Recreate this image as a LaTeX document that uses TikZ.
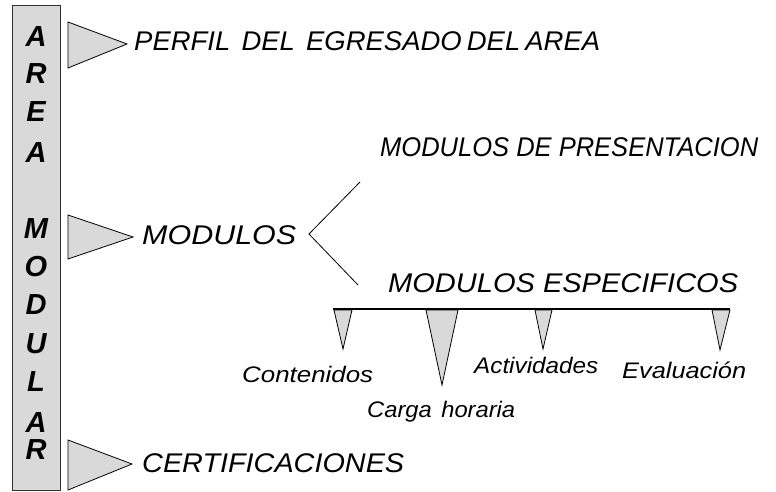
\documentclass[tikz,border=0pt]{standalone}
\usepackage{fontspec}
\usepackage{graphicx}
\setmainfont{Liberation Sans}
\definecolor{boxgray}{HTML}{D9D9D9}
\newcommand\fitw[2]{\sbox0{#2}\pgfmathsetmacro\fsx{#1/\the\wd0}\scalebox{\fsx}[1]{\usebox0}}
\tikzset{
  bar/.style={fill=boxgray, draw=black!80, line width=0.8pt},
  tri/.style={fill=boxgray, draw=black, line width=0.8pt},
  bigtxt/.style={anchor=base west, inner sep=0pt, font=\fontsize{27}{27}\selectfont\itshape},
  smalltxt/.style={anchor=base west, inner sep=0pt, font=\fontsize{22.5}{22.5}\selectfont\itshape},
  barltr/.style={anchor=base, inner sep=0pt, font=\fontsize{29}{29}\selectfont\bfseries\itshape},
  conn/.style={draw=black, line width=0.8pt}
}
\begin{document}
\begin{tikzpicture}[x=1pt,y=-1pt]
\useasboundingbox (0,0) rectangle (776,492);
% vertical bar
\draw[bar] (12,5) rectangle (60,490);
\foreach \l/\y [count=\i] in {A/47,R/84,E/122,A/162,M/238,O/276,D/314,U/353,L/391,A/432,R/459}
  \node[barltr] (bl\i) at (36,\y) {\l};
% big triangles
\draw[tri] (68,22) -- (127,44) -- (68,68) -- cycle;
\draw[tri] (68,215) -- (133,237) -- (68,259) -- cycle;
\draw[tri] (68,440) -- (132,464) -- (68,490) -- cycle;
% texts
\node[bigtxt] (perfil) at (134,51) {\fitw{466}{PERFIL\hspace{11pt}DEL\hspace{11pt}EGRESADO\hspace{5pt}DEL\hspace{5pt}AREA}};
\node[bigtxt] (mod) at (142,244) {\fitw{154}{MODULOS}};
\node[bigtxt] (pres) at (380,157) {\fitw{378}{MODULOS DE PRESENTACION}};
\node[bigtxt] (esp) at (388,292) {\fitw{350}{MODULOS ESPECIFICOS}};
\node[bigtxt] (cert) at (142,472) {\fitw{262}{CERTIFICACIONES}};
% branch
\coordinate (v) at (309,234);
\coordinate (vu) at (360,182);
\coordinate (vd) at (358,285);
\draw[conn] (vu) -- (v) -- (vd);
% horizontal line
\coordinate (hl) at (333,309);
\coordinate (hr) at (730,309);
\draw[black, line width=2pt] (hl) -- (hr);
% small triangles
\draw[tri] (334,310) -- (343,349) -- (352,310) -- cycle;
\draw[tri] (426,310) -- (442,385) -- (458,310) -- cycle;
\draw[tri] (535,310) -- (543,349) -- (552,310) -- cycle;
\draw[tri] (712,310) -- (720,350) -- (730,310) -- cycle;
\node[smalltxt] (cont) at (242,382) {\fitw{131}{Contenidos}};
\node[smalltxt] (carga) at (367,417) {\fitw{148}{Carga\hspace{9pt}horaria}};
\node[smalltxt] (act) at (474,373) {\fitw{124}{Actividades}};
\node[smalltxt] (eval) at (622,378) {\fitw{124}{Evaluación}};
\end{tikzpicture}
\end{document}
